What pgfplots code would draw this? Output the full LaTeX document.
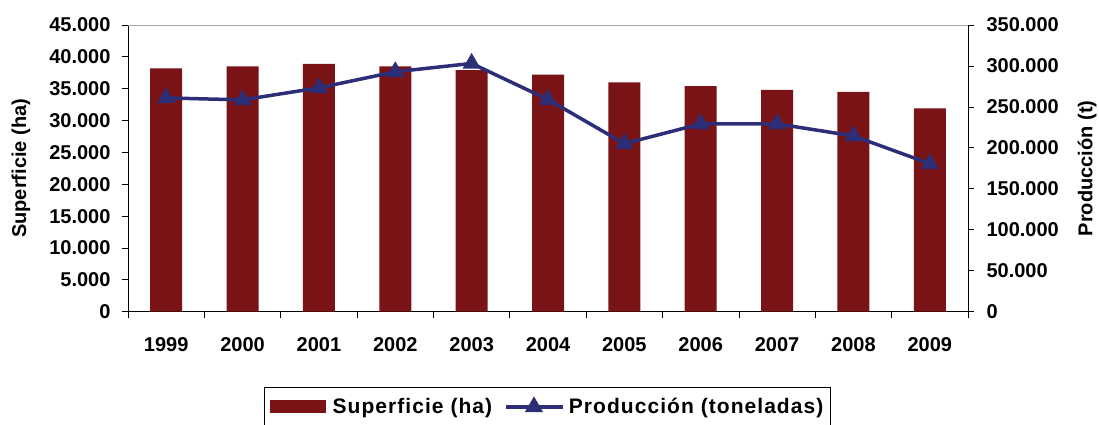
\documentclass[border=0pt]{standalone}
\usepackage{pgfplots}
\pgfplotsset{compat=1.18}
\usepackage{fontspec}
\setmainfont{Liberation Sans}
\definecolor{barred}{RGB}{122,19,21}
\definecolor{navyline}{RGB}{44,46,120}
\newcommand{\cfont}{\bfseries\fontsize{20}{22}\selectfont}
\newcommand{\lfont}{\bfseries\fontsize{21}{23}\selectfont\addfontfeatures{LetterSpace=5}}
\pgfplotsset{
  mylinelegend/.style={legend image code/.code={\draw[mark repeat=2,mark phase=2,##1] plot coordinates {(0pt,0pt) (28pt,0pt) (57pt,0pt)};\path[draw=none,fill=none] (0pt,0pt) -- (61pt,0pt);}},
  mybarlegend/.style={legend image code/.code={\path[fill=barred,draw=none] (0pt,-6.5pt) rectangle (56pt,6.5pt);\path[draw=none,fill=none] (0pt,0pt) -- (61pt,0pt);}},
}

\begin{document}
\begin{tikzpicture}[x=1pt,y=1pt]
\path[use as bounding box] (0,0) rectangle (1099,-424);
\begin{axis}[
  at={(128pt,-311.7pt)}, anchor=south west,
  scale only axis, width=840pt, height=286.7pt,
  xmin=-0.5, xmax=10.5,
  ymin=0, ymax=45000,
  axis x line*=bottom, axis y line*=left,
  xtick={-0.5,0.5,...,10.5},
  x tick label as interval,
  xticklabels={1999,2000,2001,2002,2003,2004,2005,2006,2007,2008,2009},
  ytick={0,5000,...,45000},
  scaled y ticks=false,
  tick align=outside,
  major tick length=6pt,
  tick style={black, line width=0.8pt},
  axis line style={black, line width=0.8pt, -},
  ticklabel style={font=\cfont},
  xticklabel style={yshift=-16pt},
  yticklabel style={xshift=-8pt},
  /pgf/number format/assume math mode=true,
  /pgf/number format/fixed,
  /pgf/number format/1000 sep={.},
  ylabel={Superficie (ha)},
  every axis y label/.style={at={(axis description cs:-0.1274,0.5)}, rotate=90, anchor=center, font=\cfont},
  clip=false,
]
\addplot[ybar, bar width=32pt, fill=barred, draw=none] coordinates {
(0,38200) (1,38500) (2,38900) (3,38500) (4,37900) (5,37200)
(6,36000) (7,35400) (8,34800) (9,34500) (10,31900)};
\draw[gray!70, line width=0.8pt] (rel axis cs:0,1) -- (rel axis cs:1,1);
\end{axis}
\begin{axis}[
  at={(128pt,-311.7pt)}, anchor=south west,
  scale only axis, width=840pt, height=286.7pt,
  xmin=-0.5, xmax=10.5,
  ymin=0, ymax=350000,
  axis x line=none, axis y line*=right,
  ytick={0,50000,...,350000},
  scaled y ticks=false,
  tick align=outside,
  major tick length=6pt,
  tick style={black, line width=0.8pt},
  axis line style={black, line width=0.8pt, -},
  ticklabel style={font=\cfont},
  yticklabel style={xshift=9pt},
  /pgf/number format/assume math mode=true,
  /pgf/number format/fixed,
  /pgf/number format/1000 sep={.},
  ylabel={Producción (t)},
  every axis y label/.style={at={(axis description cs:1.1417,0.5)}, rotate=90, anchor=center, font=\cfont},
  legend columns=2,
  legend style={at={(axis description cs:0.4994,-0.2626)}, anchor=north,
    draw=black, line width=0.8pt, font=\lfont, inner xsep=5pt, inner ysep=9pt,
    /tikz/every even column/.append style={column sep=10pt}},
  clip=false,
]
\addlegendimage{mybarlegend}
\addlegendentry{Superficie (ha)}
\addplot[navyline, line width=3.5pt, mark=triangle*, mark size=7pt, mark options={solid}, mylinelegend]
coordinates {
(0,261000) (1,258600) (2,273300) (3,292900) (4,303100) (5,259000)
(6,205200) (7,229300) (8,229300) (9,214600) (10,180700)};
\addlegendentry{Producción (toneladas)}
\end{axis}
\end{tikzpicture}
\end{document}
